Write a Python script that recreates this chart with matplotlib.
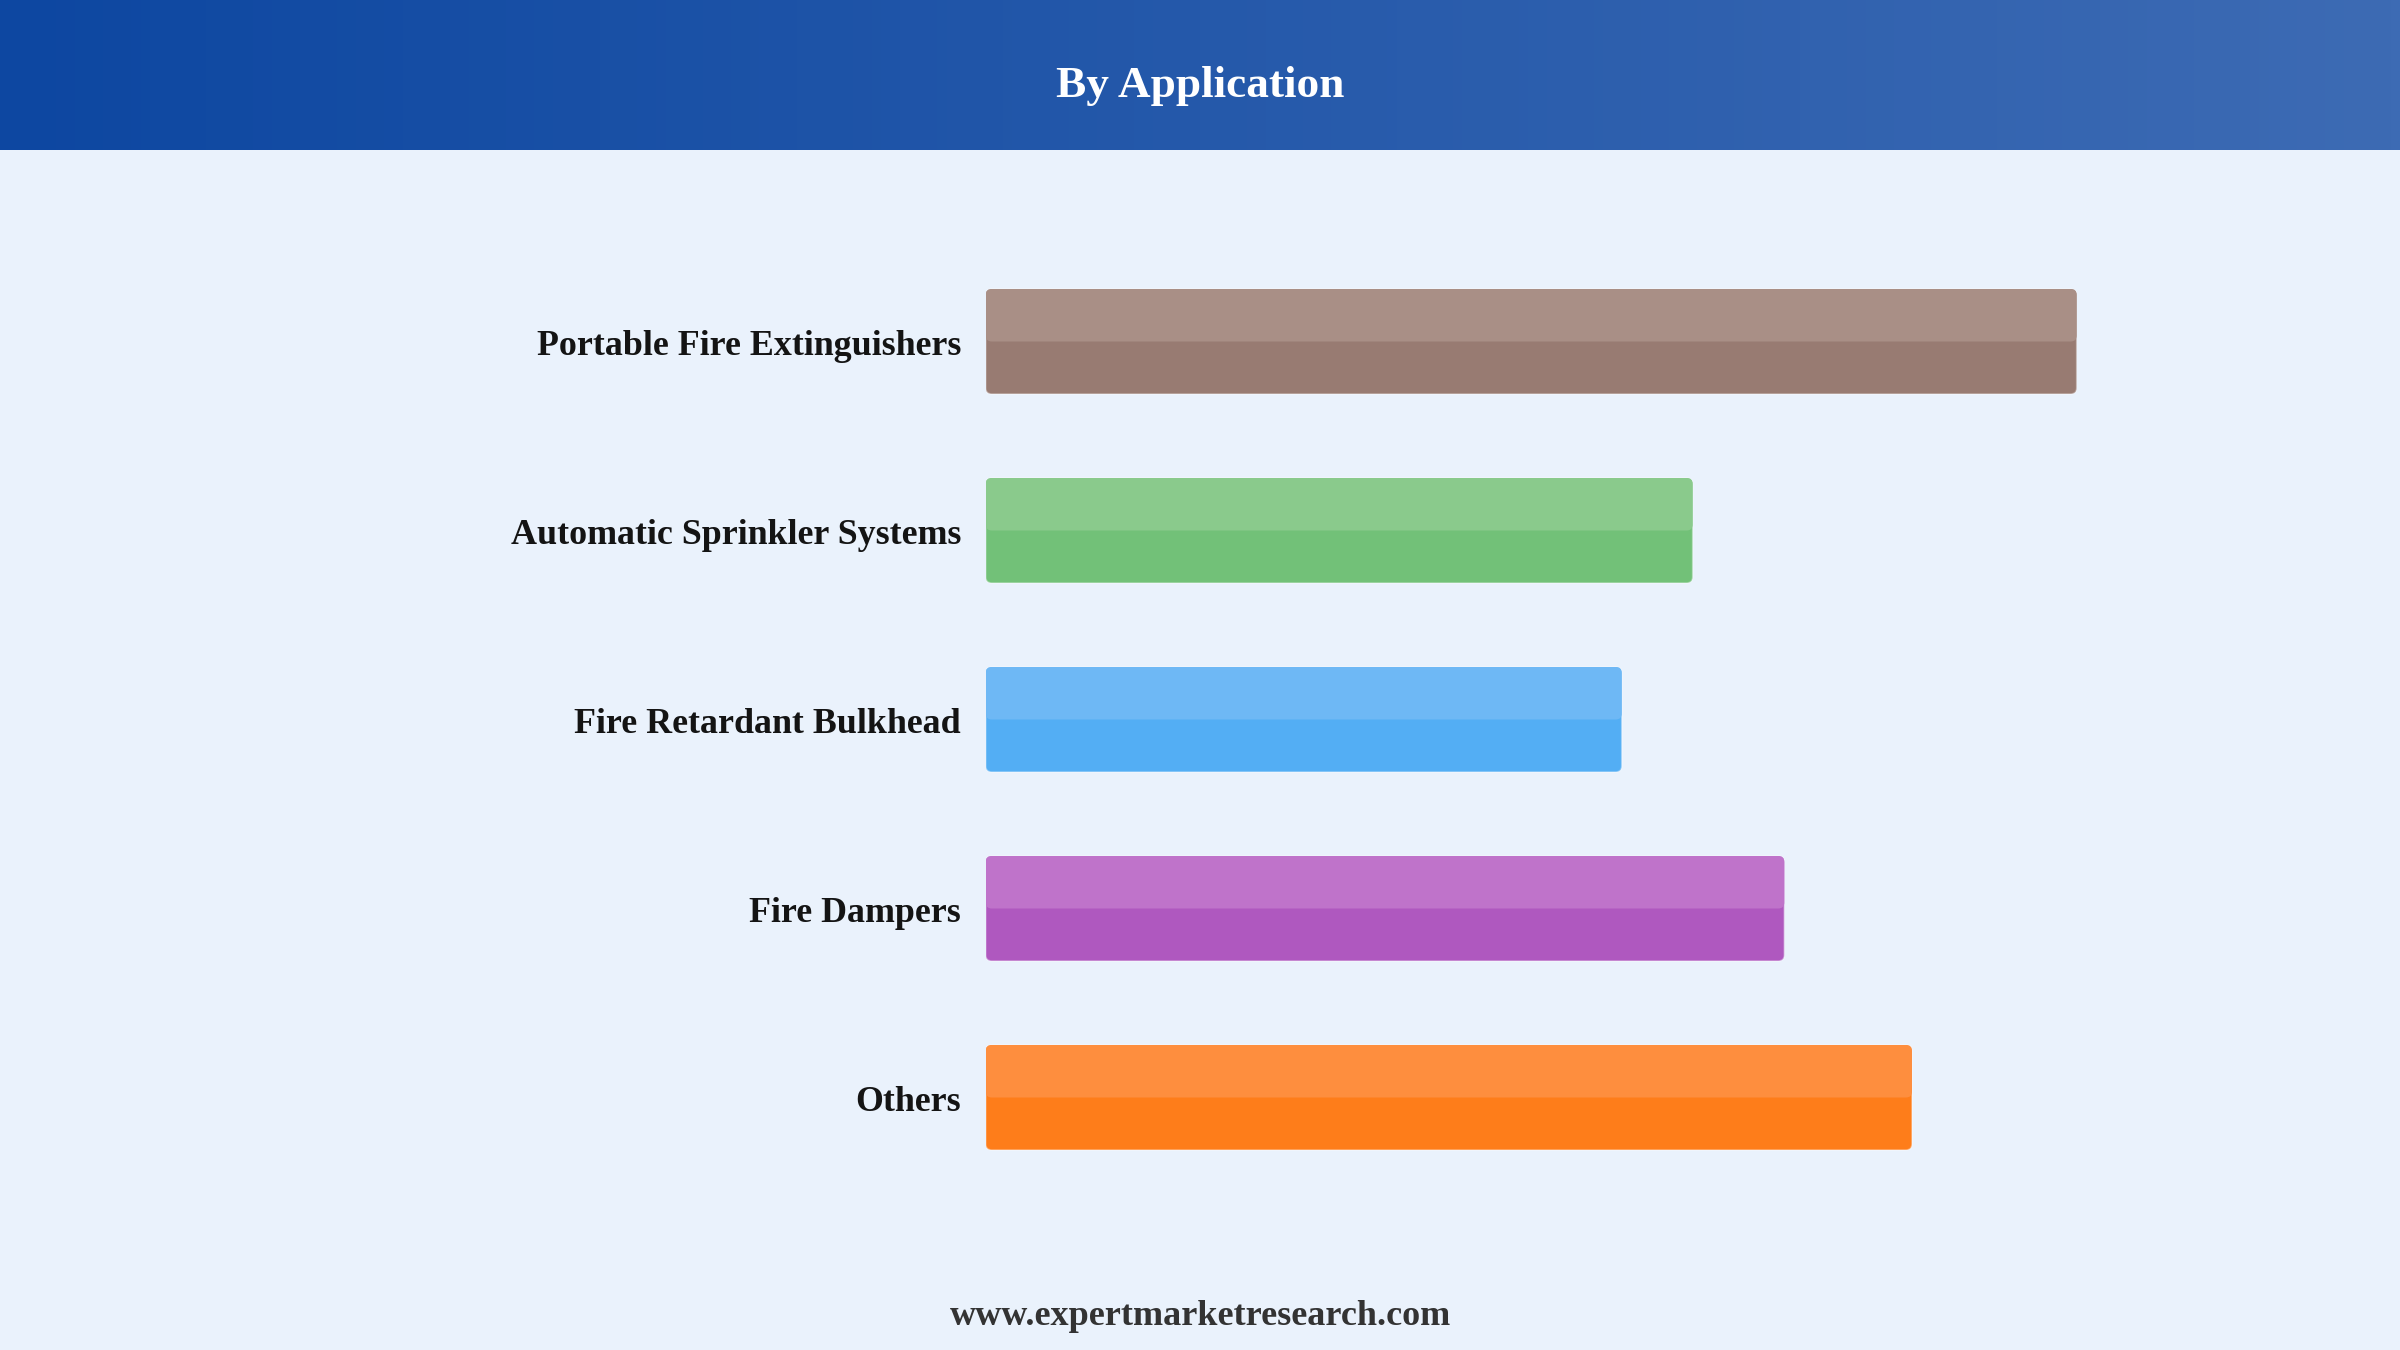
import numpy as np
import matplotlib
matplotlib.use('Agg')
from matplotlib import pyplot as plt
from matplotlib.patches import FancyBboxPatch
from matplotlib.transforms import offset_copy

# data (relative bar lengths)
categories = ['Portable Fire Extinguishers', 'Automatic Sprinkler Systems',
              'Fire Retardant Bulkhead', 'Fire Dampers', 'Others']
values = [100, 64.8, 58.3, 73.2, 84.9]
base_colors = ['#987B72', '#72C178', '#53AEF4', '#AF58BF', '#FE7D1A']
top_colors = ['#A98F86', '#8ACA8C', '#6EB8F5', '#BF73CA', '#FE8E3E']

title = 'By Application'
footer = 'www.expertmarketresearch.com'

W, H = 2400, 1350
fig = plt.figure(figsize=(24, 13.5), dpi=100)
fig.patch.set_facecolor('#EAF2FC')

serif = ['Liberation Serif', 'DejaVu Serif']

# header band with a horizontal gradient
hax = fig.add_axes([0, 1 - 150 / H, 1, 150 / H])
grad = np.linspace(0, 1, 512).reshape(1, -1)
cmap = matplotlib.colors.LinearSegmentedColormap.from_list('hdr', ['#0D47A1', '#3D6BB4'])
hax.imshow(grad, aspect='auto', cmap=cmap, extent=[0, 1, 0, 1])
hax.set_axis_off()
fig.text(0.5, (H - 97) / H, title, ha='center', va='baseline', color='white',
         fontsize=32.6, fontweight='bold', family=serif)

# bar area
ax = fig.add_axes([985.7 / W, 1 - 1192 / H, 1091 / W, 945 / H])
ax.set_facecolor('none')
ax.set_xlim(0, 100)
ax.set_ylim(4.5, -0.5)
ax.set_axis_off()

y = np.arange(len(categories))
bh = 105 / 189

px_x = 1091 / 100   # pixels per x unit
px_y = 189.0        # pixels per y unit
r = 6 / px_x
aspect = (1 / px_y) / (1 / px_x)

full = ax.barh(y, values, height=bh, color=base_colors)
upper = ax.barh(y - bh / 4, values, height=bh / 2, color=top_colors)


def round_bars(bars, colors, edge):
    for b, c in zip(bars, colors):
        b.set_visible(False)
        p = FancyBboxPatch((b.get_x(), b.get_y()), b.get_width(), b.get_height(),
                           boxstyle=f'round,pad=0,rounding_size={r}',
                           mutation_aspect=aspect, facecolor=c,
                           edgecolor=edge, linewidth=1.2)
        ax.add_patch(p)


round_bars(full, base_colors, (1, 1, 1, 0.35))
round_bars(upper, top_colors, 'none')

# category labels, right aligned just left of the bars
lab_tr = offset_copy(ax.transData, fig=fig, x=-24.7, y=-13.5, units='dots')
for yi, name in zip(y, categories):
    ax.text(0, yi, name, transform=lab_tr, ha='right', va='baseline',
            fontsize=25.8, fontweight='bold', color='#141414', family=serif)

fig.text(0.5, (H - 1325) / H, footer, ha='center', va='baseline', color='#333333',
         fontsize=26, fontweight='bold', family=serif)

fig.savefig('out.png', dpi=100, facecolor=fig.get_facecolor())
